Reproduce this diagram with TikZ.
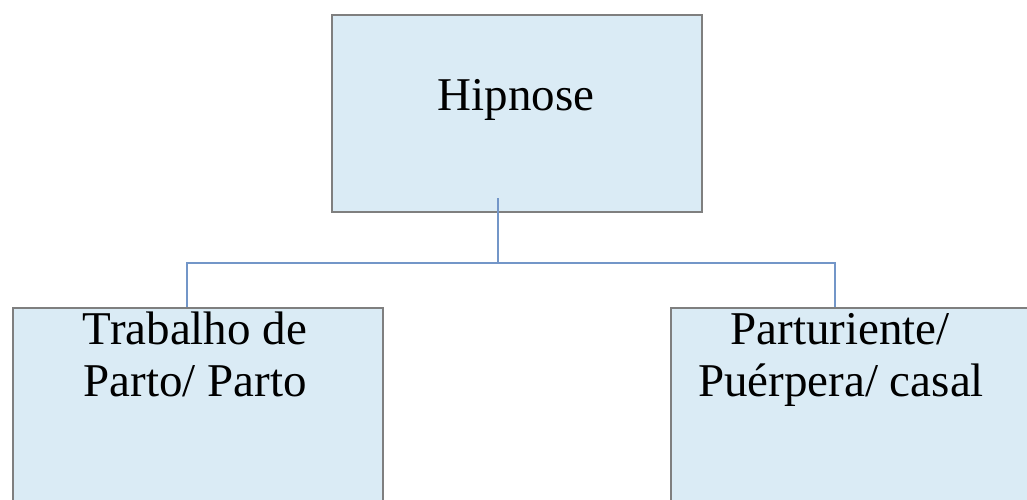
\documentclass[tikz,border=0pt]{standalone}
\usepackage{fontspec}
\setmainfont{Liberation Serif}
\definecolor{boxfill}{HTML}{DAEBF5}
\definecolor{boxline}{HTML}{7F7F7F}
\definecolor{connline}{HTML}{7396C8}
\begin{document}
\begin{tikzpicture}[x=1pt,y=-1pt,
  box/.style={draw=boxline,fill=boxfill,line width=1.6pt,rectangle,inner sep=0pt,anchor=north west},
  conn/.style={draw=connline,line width=1.6pt},
  lbl/.style={font=\fontsize{47}{52}\selectfont,align=center,inner sep=0pt,anchor=base}]
\useasboundingbox (0,0) rectangle (1027,499);
\clip (0,0) rectangle (1027,499);
\fill[white] (0,0) rectangle (1027,499);
\node[box,minimum width=370pt,minimum height=197pt] (hip) at (331,14) {};
\node[box,minimum width=370pt,minimum height=260pt] (left) at (12,307) {};
\node[box,minimum width=370pt,minimum height=260pt] (right) at (670,307) {};
\node[lbl] (thip) at (516,110) {Hipnose};
\node[lbl] (tleft) at (195,344) {Trabalho de};
\node[lbl] (tleft2) at (195,396) {Parto/ Parto};
\node[lbl] (tright) at (840,344) {Parturiente/};
\node[lbl] (tright2) at (841,396) {Puérpera/ casal};
\coordinate (c0) at (498,198);
\coordinate (mid) at (498,263);
\coordinate (cl) at (187,307);
\coordinate (cr) at (835,307);
\draw[conn] (c0) -- (mid);
\draw[conn] (mid) -| (cl);
\draw[conn] (mid) -| (cr);
\end{tikzpicture}
\end{document}
